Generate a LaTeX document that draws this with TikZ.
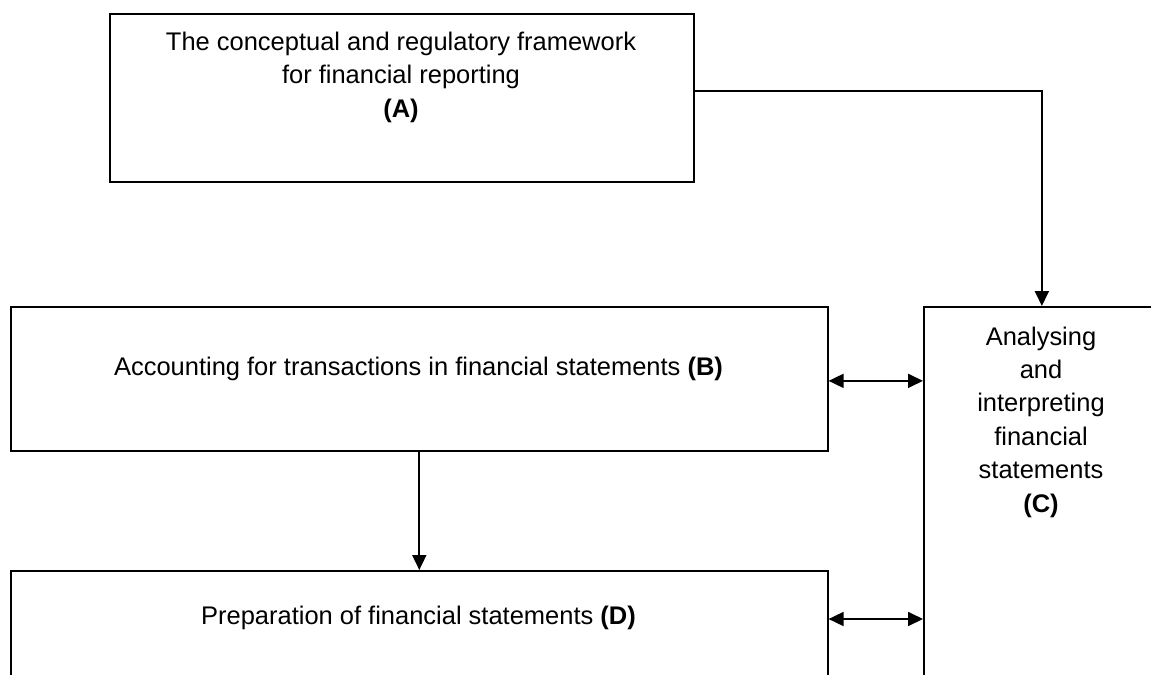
\documentclass[tikz,border=0pt]{standalone}
\usepackage{fontspec}
\setmainfont{Liberation Sans}
\usetikzlibrary{arrows.meta}

\tikzset{
  box/.style={draw,line width=1pt,inner sep=0pt,anchor=north west},
  lbl/.style={anchor=base,align=center,inner sep=0pt,font=\fontsize{14.5}{19}\selectfont},
  arr/.style={line width=1pt,-{Triangle[length=0.3cm,width=0.28cm]}},
  dbl/.style={line width=1pt,{Triangle[length=0.3cm,width=0.28cm]}-{Triangle[length=0.3cm,width=0.28cm]}}
}

\begin{document}
\begin{tikzpicture}[x=0.02cm,y=-0.02cm]
    \clip (0,0) rectangle (1151,674);
        \node at (109,13) [box,minimum width=11.68cm,minimum height=3.36cm] (A) {};
        \node at (10,306) [box,minimum width=16.34cm,minimum height=2.88cm] (B) {};
        \node at (10,570) [box,minimum width=16.34cm,minimum height=3cm] (D) {};
        \node at (923,306) [box,minimum width=4.72cm,minimum height=8.4cm] (C) {};
        % base anchor sits on the last line
        \node at (401,117) [lbl] (Atxt) {The conceptual and regulatory framework\\for financial reporting\\\textbf{(A)}};
        \node at (418.5,375) [lbl] (Btxt) {Accounting for transactions in financial statements \textbf{(B)}};
        \node at (418.5,624) [lbl] (Dtxt) {Preparation of financial statements \textbf{(D)}};
        \node at (1041,512) [lbl] (Ctxt) {Analysing\\and\\interpreting\\financial\\statements\\\textbf{(C)}};
        \draw[arr] ([yshift=0.14cm]A.east) -| (C.north);
        \draw[arr] (B) -- (D);
        \draw[dbl] ([yshift=-0.04cm]B.east) -- ([yshift=-0.04cm]B.east -| C.west);
        \draw[dbl] ([yshift=-0.98cm]D.north east) -- ([yshift=-0.98cm]D.north east -| C.west);
    \end{tikzpicture}
\end{document}
